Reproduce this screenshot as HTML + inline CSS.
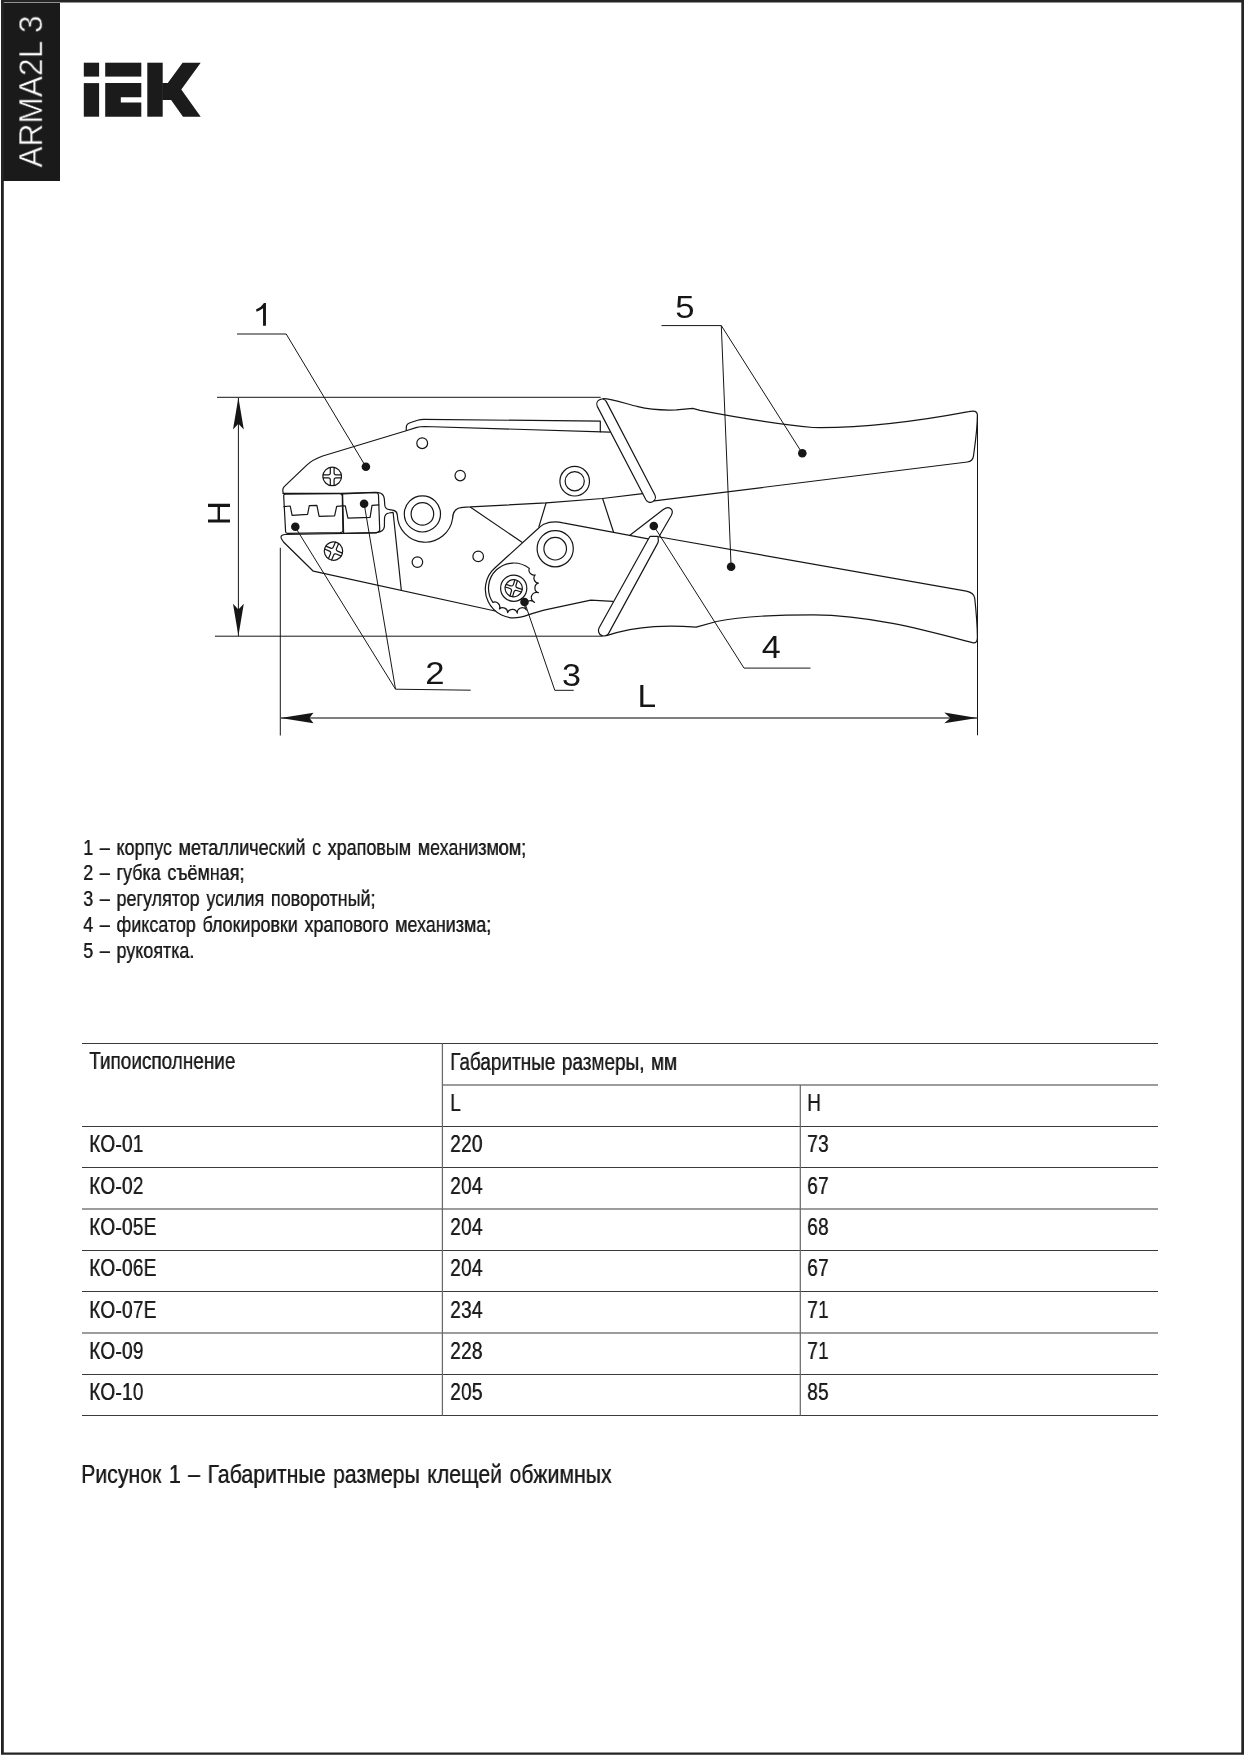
<!DOCTYPE html><html><head><meta charset="utf-8"><title>ARMA2L 3</title><style>
html,body{margin:0;padding:0;background:#fff}
body{width:1244px;height:1756px;position:relative;overflow:hidden;font-family:"Liberation Sans",sans-serif;color:#1c1c1c}
#frame{position:absolute;left:1px;top:0;width:1237.4px;height:1750px;border:2.8px solid #222;border-top-width:2.6px;border-bottom-width:2.4px;box-sizing:content-box}
#tab{position:absolute;left:1px;top:3.2px;width:58.8px;height:177.4px;background:#1a1a1a}
#tabt{will-change:transform;position:absolute;left:0;top:0;color:#fff;font-size:33px;white-space:pre;transform-origin:0 0;transform:translate(13.2px,164.6px) rotate(-90deg) scaleX(0.961);line-height:33px;-webkit-text-stroke:0.55px #1a1a1a}
#dw{position:absolute;left:0;top:0;will-change:transform}
.t{position:absolute;white-space:pre;transform-origin:0 0;line-height:1;will-change:transform;text-shadow:0.4px 0 0 #1c1c1c}
.lg{font-size:22px;transform:scaleX(0.815);word-spacing:2.1px}
.tb{font-size:23px;transform:scaleX(0.824);word-spacing:1.6px}.tn{font-size:24px;transform:scaleX(0.795);letter-spacing:0.3px}
.cp{font-size:26px;transform:scaleX(0.818);word-spacing:1.95px}
.hl{position:absolute;left:82.5px;height:1.2px;background:#444}
.vl{position:absolute;width:1.2px;background:#444}
</style></head><body>
<div id="tab"><div id="tabt">ARMA2L 3</div></div>
<svg id="logo" width="1244" height="200" viewBox="0 0 1244 200" style="position:absolute;left:0;top:0"><g fill="#1b1b1b"><rect x="83.8" y="62.7" width="15.3" height="13.9"/><rect x="83.8" y="83.1" width="15.3" height="33.6"/><rect x="105.2" y="62.7" width="36.1" height="13.9"/><path d="M105.2,83.1 H141.3 V97.2 H120.8 V102.5 H141.3 V116.7 H105.2 Z"/><rect x="147.3" y="62.7" width="15.4" height="54"/><path d="M162.2,83.1 L167.8,83.1 L182.6,62.7 L200.7,62.7 L181.3,89.6 L200.7,116.7 L183,116.7 L171.1,100.1 L162.2,100.1 Z"/></g></svg>
<svg id="dw" width="1244" height="1756" viewBox="0 0 1244 1756">
<path fill="#242424" d="M1,0 H1244 V1754.8 H1 Z M3.8,2.5 V1752.4 H1241.3 V2.5 Z" fill-rule="evenodd"/>
<g fill="none" stroke="#161616" stroke-width="1.2" stroke-linecap="round" stroke-linejoin="round">
<path d="M 283.2,493.4 L 282.8,490.2 Q 282.7,488.2 284.2,486.6 L 306.5,465.4 Q 312.5,459.6 322.7,456 L 406.2,430.7 L 416,427.6 Q 420,426.5 424.6,426.5 L 609.9,432.1"/>
<path d="M 406.2,430.4 L 406.4,426.2 Q 406.8,424 410,422.8 L 417.5,420.3 Q 420.5,419.3 424,419.3 L 600.3,421.2 L 600.3,431.8"/>
<path d="M 283.2,493.4 L 341.4,493.3 L 375.7,492.4 L 378.5,492.6 Q 383.6,493.4 384.3,498.6 L 384.8,505.5 Q 385.4,509.2 389.5,509.6 L 393.8,510.4 Q 397,511.4 397.3,515 A 27.8 27.8 0 0 0 452.6,518.5 Q 452.7,508.8 461,507.7 Q 466,507 470.5,506.9 L 546.1,502.9 L 602.4,498.5 L 642.7,493.7"/>
<path d="M 376.3,532.7 Q 383.8,531.6 384.4,526.6 L 384.5,518.4 Q 384.8,513.4 389,513 L 393.1,512.3 L 401.3,590.2"/>
<path d="M 285.3,494.2 Q 283.6,494.3 283.7,496 L 285.6,531.8 Q 285.8,533.5 287.5,533.4 L 340,532.7 Q 342.8,532.5 342.9,531 L 342.3,496 Q 342.2,493.6 339.5,493.7 Z"/>
<path d="M 342.6,493.9 L 343.6,533.2"/>
<path d="M 343,493.8 L 375.7,492.5 Q 378.3,492.6 378.5,495.2 L 379.7,529.6 Q 379.6,532.5 376.3,532.7 L 343.4,533.3"/>
<path d="M 283.9,506.6 L 290.2,506 L 292.1,515.3 L 307.6,514.4 L 309.3,505.7 L 316.9,505.4 L 319.1,516.4 L 334.6,515.8 L 336.7,506.3 L 342.6,505.9"/>
<path d="M 343.3,505.9 L 345.3,505.9 L 347.9,518.1 L 370.1,517.3 L 372,505.4 L 378.8,504.9"/>
<path d="M 376,532.9 L 285,534.5 Q 279.4,535 281.6,539 L 283.5,542 L 313.3,571.2 L 495.2,611.0"/>
<path d="M 470.5,507.2 L 522,542.3 M 546.1,502.9 L 538.8,527.2 M 602.6,498.5 L 613.5,532 "/>
<path d="M 648.2,538.9 L 563,522.8 Q 552.5,520.4 543.7,524.2 Q 541,525.6 537.9,528.8 L 494.8,568 A 28.6 28.6 0 0 0 519,617.4 Q 524,616.6 532,613.6 L 544,610.2 L 590.8,600.1 L 612.8,601.3"/>
<path d="M 0.00,0.00"/>
<path d="M 529.28,568.40 A 5.00 5.00 0 0 0 535.14,574.96 A 5.00 5.00 0 0 0 538.39,583.18 A 5.00 5.00 0 0 0 538.49,592.75 A 5.00 5.00 0 0 0 534.57,602.33 A 5.00 5.00 0 0 0 526.45,609.94 A 5.00 5.00 0 0 0 517.29,613.14 A 5.00 5.00 0 0 0 507.69,612.67 A 5.00 5.00 0 0 0 499.39,608.94 A 5.00 5.00 0 0 0 492.88,602.40 M 492.88,602.40 A 25.2 25.2 0 0 1 529.28,568.40"/>
<circle cx="513.7" cy="588.2" r="13.1"/>
<g transform="translate(513.7 588.2) rotate(17.0)"><circle r="8.6"/><path d="M -1.35,-8.45 L -1.35,-3.55 Q -1.35,-1.35 -3.55,-1.35 L -8.45,-1.35 M -1.35,8.45 L -1.35,3.55 Q -1.35,1.35 -3.55,1.35 L -8.45,1.35 M 1.35,-8.45 L 1.35,-3.55 Q 1.35,-1.35 3.55,-1.35 L 8.45,-1.35 M 1.35,8.45 L 1.35,3.55 Q 1.35,1.35 3.55,1.35 L 8.45,1.35"/></g>
<g transform="translate(332.2 476.4) rotate(0.0)"><circle r="9.3"/><path d="M -1.90,-9.06 L -1.90,-3.45 Q -1.90,-1.45 -3.90,-1.45 L -9.14,-1.45 M -1.90,9.06 L -1.90,3.45 Q -1.90,1.45 -3.90,1.45 L -9.14,1.45 M 1.90,-9.06 L 1.90,-3.45 Q 1.90,-1.45 3.90,-1.45 L 9.14,-1.45 M 1.90,9.06 L 1.90,3.45 Q 1.90,1.45 3.90,1.45 L 9.14,1.45"/></g>
<g transform="translate(333.5 551.1) rotate(23.0)"><circle r="9.2"/><path d="M -1.75,-8.99 L -1.75,-3.60 Q -1.75,-1.60 -3.75,-1.60 L -9.01,-1.60 M -1.75,8.99 L -1.75,3.60 Q -1.75,1.60 -3.75,1.60 L -9.01,1.60 M 1.75,-8.99 L 1.75,-3.60 Q 1.75,-1.60 3.75,-1.60 L 9.01,-1.60 M 1.75,8.99 L 1.75,3.60 Q 1.75,1.60 3.75,1.60 L 9.01,1.60"/></g>
<circle cx="422.2" cy="443.2" r="5.4"/>
<circle cx="460.2" cy="475.6" r="5.2"/>
<circle cx="417.4" cy="562.1" r="5.3"/>
<circle cx="478.2" cy="556.4" r="5.3"/>
<circle cx="422.4" cy="513.9" r="18.1"/>
<circle cx="422.4" cy="513.9" r="11.3"/>
<circle cx="574.7" cy="481.2" r="14.8"/>
<circle cx="574.7" cy="481.2" r="9.6"/>
<circle cx="555.2" cy="548.7" r="18.1"/>
<circle cx="555.2" cy="548.7" r="11.3"/>
<path d="M 597.28,406.35 L 645.88,499.75 A 5.1 5.1 0 0 0 654.92,495.05 L 606.32,401.65 A 5.1 5.1 0 0 0 597.28,406.35 Z"/>
<path d="M 603.1,398.6 C 612,398.8 625,403.5 637.9,406.7 C 650,409.8 662,410.4 676.4,409.9 L 692.8,408.3 L 700,410.3 C 730,416 775,424 812.9,427.5 C 860,428.2 915,421.7 968.7,411.6 Q 976.9,409.7 977.4,414.6 C 977.4,430 975,445 973.4,456.4 Q 972.6,461.4 967.4,462 L 654.3,500.9"/>
<path d="M 629.9,535.3 L 663.3,509.6 Q 667.5,506.3 670.5,508.4 Q 673.6,510.6 671.4,515.2 L 658.8,537"/>
<path d="M 648.4,539 L 650.1,536.3 L 657.9,536.3 L 658.4,540.8 Q 658.3,542.4 656.9,544.6 L 608.9,632.9 A 5 5 0 0 1 599,628 L 648.4,539"/>
<path d="M 659.8,537 L 966.3,591.2 Q 973.6,592.6 974.7,598 C 976,610 977.3,626 977.4,637 Q 977.6,643.8 972.4,642.7 L 968.7,641.7 C 930,631.6 870,614.8 813.8,614.8 C 780,614.8 740,616.5 716.5,621.5 L 696.2,627.1 C 670,625.3 640,625 606.5,635.6"/>
</g>
<g fill="none" stroke="#161616" stroke-width="1.0">
<path d="M 217,397.3 L 600.7,397.3 M 215,636.2 L 602.6,636.2 M 238.4,398 L 238.4,636"/>
<path d="M 280.3,547.8 L 280.3,735.5 M 977.5,414.5 L 977.5,735.3"/>
<path d="M 237,334 L 286.2,334 L 365.9,466.8"/>
<path d="M 661.5,325.6 L 721.3,325.6 L 802.3,453.3 M 721.3,325.6 L 731.1,566.8"/>
<path d="M 295.2,527 L 395.5,689.2 L 470.7,690.2 M 364.2,504 L 395.5,689.2"/>
<path d="M 524.5,602 L 554.8,690.3 L 573.7,690.3"/>
<path d="M 653.8,526 L 744,668.1 L 810.5,668.1"/>
</g>
<path d="M 281,717.9 L 977,717.9" fill="none" stroke="#555" stroke-width="1.5"/>
<g fill="#161616">
<path d="M 238.4,397.6 L 243.8,429.5 L 238.4,423.7 L 233,429.5 Z"/>
<path d="M 238.4,636 L 243.8,603.7 L 238.4,609.5 L 233,603.7 Z"/>
<path d="M 280.6,718 L 313.5,712.7 L 309.5,718 L 313.5,723.3 Z"/>
<path d="M 977.2,717.9 L 944.3,712.6 L 950.3,717.9 L 944.3,723.2 Z"/>
<circle cx="365.9" cy="466.8" r="4.3"/>
<circle cx="364.1" cy="503.8" r="4.3"/>
<circle cx="295.3" cy="526.8" r="4.3"/>
<circle cx="524.5" cy="602.0" r="4.3"/>
<circle cx="653.8" cy="526.0" r="4.3"/>
<circle cx="802.3" cy="453.3" r="4.3"/>
<circle cx="731.1" cy="566.8" r="4.3"/>
</g>
<g fill="#161616" font-family="Liberation Sans, sans-serif" font-size="31">
<text transform="translate(684.9 318.3) scale(1.12 1)" text-anchor="middle">5</text>
<text transform="translate(434.8 684.0) scale(1.12 1)" text-anchor="middle">2</text>
<text transform="translate(571.6 685.8) scale(1.10 1)" text-anchor="middle">3</text>
<text transform="translate(771.3 658.0) scale(1.10 1)" text-anchor="middle">4</text>
<text transform="translate(646.7 706.8) scale(1.08 1)" text-anchor="middle">L</text>
<text transform="translate(230.1 513.2) rotate(-90) scale(1.08 1)" text-anchor="middle">H</text>
<path d="M 265.95,303 L 265.95,325.8 L 263.05,325.8 L 263.05,308.2 Q 260,310.4 256.6,311.8 L 256,309.6 Q 261.4,307.2 264,303 Z"/>
</g>
<g fill="none" stroke="#3a3a3a" stroke-width="1.1">
<path d="M 82.0,1043.5 H 1158"/>
<path d="M 442.4,1085.0 H 1158"/>
<path d="M 82.0,1126.5 H 1158"/>
<path d="M 82.0,1167.5 H 1158"/>
<path d="M 82.0,1209.0 H 1158"/>
<path d="M 82.0,1250.5 H 1158"/>
<path d="M 82.0,1291.5 H 1158"/>
<path d="M 82.0,1333.0 H 1158"/>
<path d="M 82.0,1374.5 H 1158"/>
<path d="M 82.0,1415.5 H 1158"/>
<path d="M 442.4,1043.5 V 1415.5 M 800.3,1085 V 1415.5" stroke="#6a6a6a" stroke-width="1.25"/>
</g>
</svg>
<div class="t lg" style="left:82.8px;top:836.5px">1 – корпус металлический с храповым механизмом;</div>
<div class="t lg" style="left:82.8px;top:862.3px">2 – губка съёмная;</div>
<div class="t lg" style="left:82.8px;top:888.2px">3 – регулятор усилия поворотный;</div>
<div class="t lg" style="left:82.8px;top:914.1px">4 – фиксатор блокировки храпового механизма;</div>
<div class="t lg" style="left:82.8px;top:940.0px">5 – рукоятка.</div>
<div class="t tb" style="left:89.3px;top:1049.9px">Типоисполнение</div>
<div class="t tb" style="left:449.9px;top:1051.2px">Габаритные размеры, мм</div>
<div class="t tb" style="left:449.9px;top:1092.2px">L</div>
<div class="t tb" style="left:807.4px;top:1092.2px">H</div>
<div class="t tb tn" style="left:89.3px;top:1132.4px">КО-01</div>
<div class="t tb tn" style="left:449.9px;top:1132.4px">220</div>
<div class="t tb tn" style="left:807.4px;top:1132.4px">73</div>
<div class="t tb tn" style="left:89.3px;top:1173.7px">КО-02</div>
<div class="t tb tn" style="left:449.9px;top:1173.7px">204</div>
<div class="t tb tn" style="left:807.4px;top:1173.7px">67</div>
<div class="t tb tn" style="left:89.3px;top:1215.0px">КО-05Е</div>
<div class="t tb tn" style="left:449.9px;top:1215.0px">204</div>
<div class="t tb tn" style="left:807.4px;top:1215.0px">68</div>
<div class="t tb tn" style="left:89.3px;top:1256.3px">КО-06Е</div>
<div class="t tb tn" style="left:449.9px;top:1256.3px">204</div>
<div class="t tb tn" style="left:807.4px;top:1256.3px">67</div>
<div class="t tb tn" style="left:89.3px;top:1297.6px">КО-07Е</div>
<div class="t tb tn" style="left:449.9px;top:1297.6px">234</div>
<div class="t tb tn" style="left:807.4px;top:1297.6px">71</div>
<div class="t tb tn" style="left:89.3px;top:1338.9px">КО-09</div>
<div class="t tb tn" style="left:449.9px;top:1338.9px">228</div>
<div class="t tb tn" style="left:807.4px;top:1338.9px">71</div>
<div class="t tb tn" style="left:89.3px;top:1380.2px">КО-10</div>
<div class="t tb tn" style="left:449.9px;top:1380.2px">205</div>
<div class="t tb tn" style="left:807.4px;top:1380.2px">85</div>
<div class="t cp" style="left:81.0px;top:1460.6px">Рисунок 1 – Габаритные размеры клещей обжимных</div>
</body></html>
